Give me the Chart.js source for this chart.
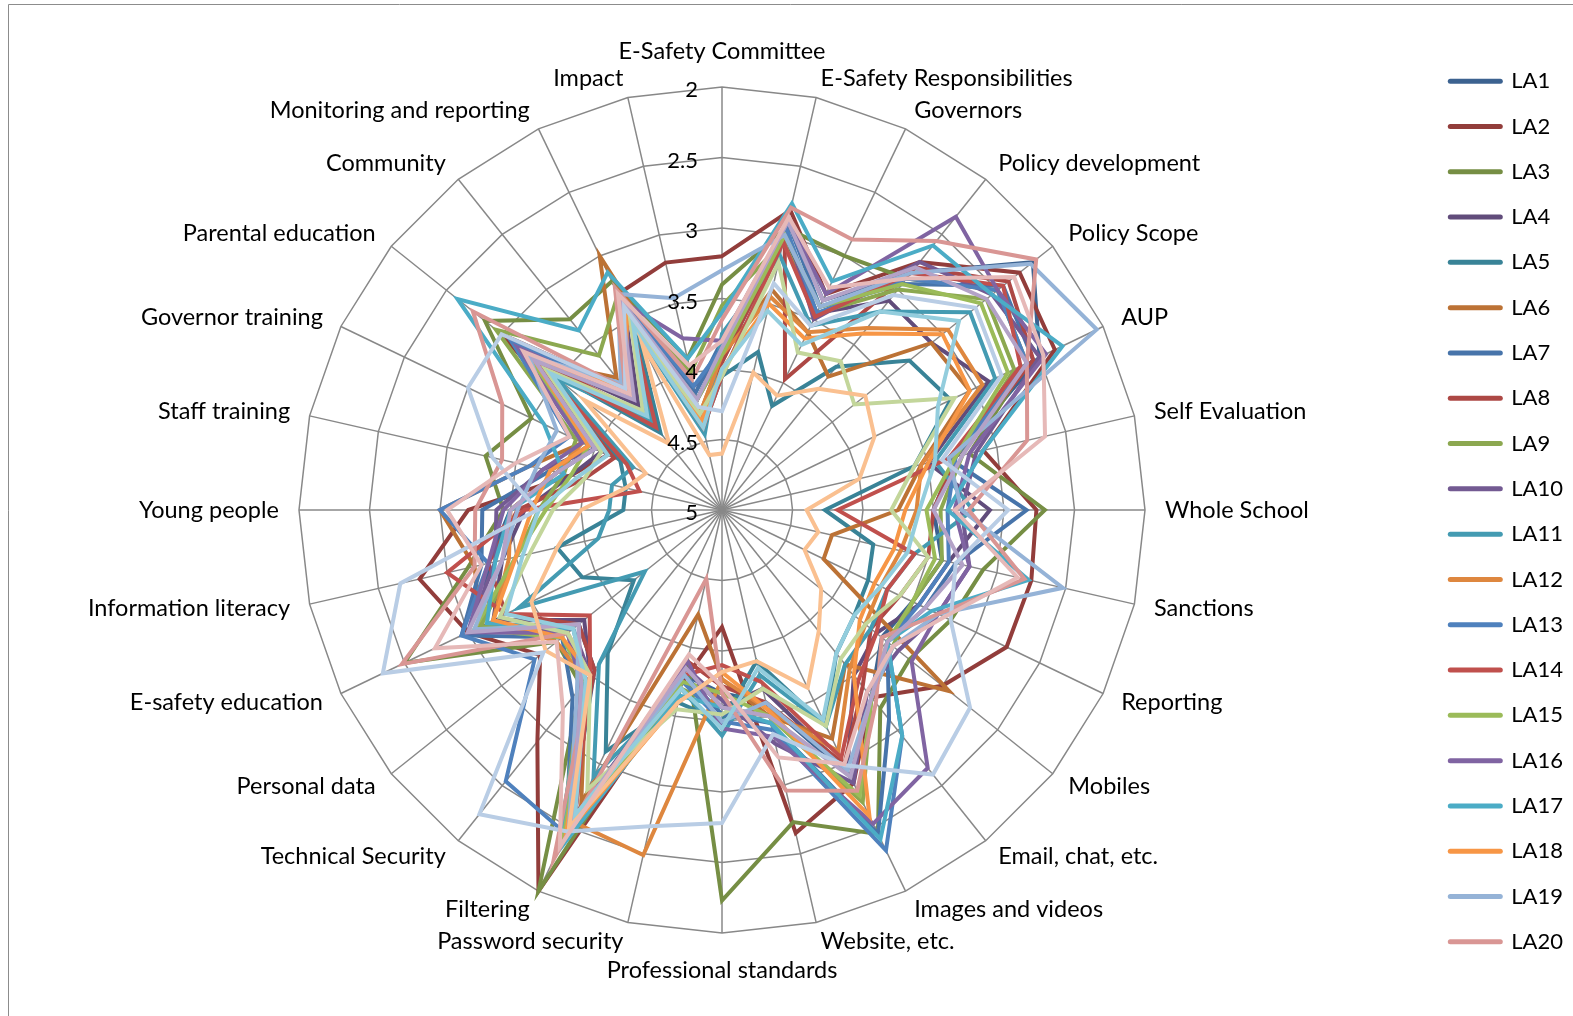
<!DOCTYPE html>
<html>
<head>
<meta charset="utf-8">
<title>E-Safety radar</title>
<script src="https://cdn.jsdelivr.net/npm/chart.js@4.4.1/dist/chart.umd.min.js"></script>
<style>
    html, body { margin: 0; padding: 0; background: #fff; }
    #wrap { width: 1573px; height: 1016px; position: relative; }
</style>
</head>
<body>
<div id="wrap"><canvas id="chart"></canvas></div>
<script>
// Aspects, clockwise from the top
const categories = [
    'E-Safety Committee', 'E-Safety Responsibilities', 'Governors', 'Policy development',
    'Policy Scope', 'AUP', 'Self Evaluation', 'Whole School', 'Sanctions', 'Reporting',
    'Mobiles', 'Email, chat, etc.', 'Images and videos', 'Website, etc.',
    'Professional standards', 'Password security', 'Filtering', 'Technical Security',
    'Personal data', 'E-safety education', 'Information literacy', 'Young people',
    'Staff training', 'Governor training', 'Parental education', 'Community',
    'Monitoring and reporting', 'Impact'
];

// Radial tick labels (scale runs 5 at the centre out to 2)
const tickValues = [2, 2.5, 3, 3.5, 4, 4.5, 5];

// Average level per aspect for each authority
const la1  = [3.85, 2.88, 3.35, 2.85, 2.18, 2.5, 3.3, 3.5, 3.4, 3.5, 3.55, 3.3, 2.9, 3.6, 3.7, 3.8, 2.5, 3.55, 3.7, 3.1, 3.3, 3.5, 3.8, 4.0, 3.15, 4.0, 3.3, 4.2];
const la2  = [3.2, 2.82, 3.3, 2.75, 2.3, 2.38, 3.1, 2.77, 2.75, 2.76, 3.0, 3.3, 2.85, 2.65, 4.17, 3.75, 2.0, 2.9, 3.35, 3.0, 2.8, 3.2, 3.9, 4.1, 3.0, 3.9, 3.3, 3.2];
const la3  = [3.4, 2.95, 3.0, 2.9, 2.5, 2.6, 3.2, 2.71, 3.1, 3.2, 3.3, 3.2, 2.45, 2.73, 2.23, 3.9, 2.0, 3.4, 3.5, 2.5, 3.15, 3.45, 3.28, 3.5, 2.85, 3.27, 3.2, 3.9];
const la4  = [3.95, 3.0, 3.45, 3.1, 3.1, 2.9, 3.5, 3.1, 3.35, 3.45, 3.6, 3.5, 2.95, 3.7, 3.6, 3.85, 2.6, 3.5, 3.75, 3.2, 3.4, 3.6, 3.9, 4.05, 3.2, 4.05, 3.4, 4.1];
const la5  = [4.05, 3.85, 4.18, 3.7, 3.3, 3.2, 3.6, 4.27, 3.9, 3.85, 3.8, 3.7, 3.3, 3.9, 3.5, 3.6, 3.1, 3.7, 4.2, 3.9, 3.8, 4.3, 4.3, 4.2, 3.4, 4.3, 3.6, 4.4];
const la6  = [3.9, 3.4, 3.6, 3.79, 3.1, 3.05, 3.55, 3.75, 4.2, 4.2, 2.94, 3.6, 3.2, 3.5, 3.8, 4.24, 2.7, 3.45, 3.6, 3.1, 3.2, 3.0, 3.6, 3.9, 3.3, 3.8, 3.0, 4.3];
const la7  = [3.8, 2.9, 3.4, 2.95, 2.45, 2.55, 3.35, 2.84, 3.3, 3.4, 3.5, 3.1, 2.45, 3.45, 3.55, 3.8, 2.45, 3.3, 3.55, 2.95, 3.25, 3.3, 3.75, 3.95, 3.1, 3.95, 3.35, 4.15];
const la8  = [3.95, 3.0, 3.97, 2.8, 2.4, 2.55, 3.3, 3.5, 3.5, 3.6, 3.65, 3.4, 3.0, 3.6, 3.75, 3.9, 2.4, 3.55, 3.7, 3.3, 3.3, 3.55, 4.0, 4.15, 3.25, 4.15, 3.5, 4.35];
const la9  = [3.55, 3.05, 3.45, 3.0, 2.6, 2.7, 3.25, 3.45, 3.4, 3.5, 3.45, 3.3, 2.7, 3.5, 3.6, 3.7, 2.35, 3.4, 3.6, 3.1, 3.5, 3.7, 3.85, 3.85, 2.95, 3.6, 3.3, 4.0];
const la10 = [3.9, 2.95, 3.5, 2.75, 2.55, 2.5, 3.15, 3.3, 3.2, 3.3, 3.4, 3.35, 2.85, 3.3, 3.65, 3.85, 2.5, 3.5, 3.65, 3.0, 3.35, 3.4, 3.7, 4.0, 3.2, 4.0, 3.4, 4.2];
const la11 = [3.75, 3.15, 3.55, 3.2, 2.75, 2.85, 3.45, 3.22, 3.6, 3.7, 3.65, 3.6, 3.3, 3.8, 3.4, 3.7, 2.9, 3.6, 4.3, 3.4, 4.1, 4.2, 4.2, 4.3, 3.5, 4.2, 3.55, 4.45];
const la12 = [3.9, 3.45, 3.6, 3.35, 2.95, 2.95, 3.55, 3.62, 3.7, 3.75, 3.7, 3.55, 3.1, 3.55, 3.8, 2.49, 2.55, 3.45, 3.5, 3.2, 3.45, 3.5, 3.8, 3.9, 3.3, 3.85, 3.45, 4.3];
const la13 = [3.85, 2.95, 3.45, 2.9, 2.5, 2.6, 3.3, 3.4, 3.35, 3.45, 3.5, 2.95, 2.32, 3.4, 3.5, 3.75, 2.45, 2.54, 3.3, 2.95, 3.3, 3.0, 3.6, 3.8, 3.1, 3.9, 3.3, 4.1];
const la14 = [4.05, 3.05, 3.48, 2.85, 2.45, 2.65, 3.35, 4.18, 3.6, 3.7, 3.6, 3.45, 3.05, 3.75, 3.9, 3.8, 2.6, 3.5, 3.8, 3.3, 3.0, 3.6, 4.4, 4.25, 3.35, 4.25, 3.5, 4.4];
const la15 = [3.9, 3.0, 3.4, 2.95, 2.65, 2.75, 3.3, 3.55, 3.45, 3.5, 3.5, 3.3, 2.75, 3.5, 3.7, 3.75, 2.4, 3.45, 3.55, 3.05, 3.5, 3.75, 3.9, 3.95, 3.2, 3.95, 3.4, 4.2];
const la16 = [3.8, 2.9, 3.3, 2.34, 2.5, 2.45, 3.2, 3.35, 3.2, 3.3, 3.28, 2.66, 2.53, 3.35, 3.45, 3.9, 2.5, 3.4, 3.6, 3.0, 3.3, 3.45, 3.7, 3.9, 3.15, 4.0, 3.35, 3.75];
const la17 = [3.6, 2.77, 3.2, 2.6, 2.55, 2.32, 3.1, 3.4, 2.77, 3.35, 3.5, 2.95, 2.41, 3.45, 3.6, 3.65, 2.3, 3.45, 3.65, 3.15, 3.35, 3.5, 3.85, 3.6, 2.6, 3.37, 3.13, 3.9];
const la18 = [4.0, 3.5, 3.65, 3.4, 3.0, 3.05, 3.5, 3.7, 3.75, 3.8, 3.75, 3.5, 2.59, 3.55, 3.85, 3.6, 2.45, 3.5, 3.55, 3.2, 3.5, 3.65, 3.75, 3.95, 3.3, 3.9, 3.45, 4.35];
const la19 = [3.3, 3.0, 3.4, 2.85, 2.2, 2.05, 3.35, 3.3, 2.52, 3.3, 3.45, 3.3, 2.95, 3.6, 3.5, 3.8, 2.5, 3.35, 3.7, 3.05, 3.4, 3.55, 3.65, 3.7, 3.25, 3.85, 3.3, 3.46];
const la20 = [3.65, 2.8, 2.87, 2.56, 2.15, 2.6, 2.78, 3.25, 2.8, 3.3, 3.55, 3.25, 2.79, 2.96, 3.7, 4.5, 2.25, 3.5, 3.6, 2.48, 3.2, 3.25, 3.4, 3.27, 2.74, 3.9, 3.25, 4.05];
const la21 = [4.05, 3.2, 3.76, 3.65, 3.8, 3.17, 3.6, 3.8, 3.5, 3.6, 3.7, 3.65, 3.3, 3.7, 3.55, 3.55, 2.8, 3.5, 3.6, 3.25, 3.6, 3.8, 4.0, 4.05, 3.4, 4.1, 3.5, 4.3];
const la22 = [3.85, 2.9, 3.35, 2.8, 2.6, 2.6, 3.25, 3.5, 3.25, 3.4, 3.5, 3.3, 2.9, 3.5, 3.6, 3.85, 2.55, 3.4, 3.7, 3.0, 3.4, 3.5, 3.8, 4.0, 3.3, 4.0, 3.35, 4.2];
const la23 = [4.0, 3.55, 3.7, 3.2, 2.85, 3.3, 3.45, 3.6, 3.65, 3.75, 3.8, 3.7, 3.35, 3.85, 3.45, 3.7, 2.6, 3.45, 3.65, 3.3, 3.55, 3.7, 3.95, 4.1, 3.45, 4.15, 3.55, 4.4];
const la24 = [4.6, 4.0, 4.1, 3.9, 3.7, 3.8, 4.0, 4.4, 4.3, 4.35, 4.1, 3.9, 3.6, 3.9, 3.85, 3.6, 2.5, 3.5, 3.4, 3.5, 3.8, 4.0, 4.3, 4.4, 3.75, 4.4, 3.7, 4.6];
const la25 = [4.3, 3.35, 3.55, 3.05, 2.7, 2.8, 3.4, 2.97, 3.3, 3.2, 2.75, 2.6, 2.99, 3.37, 2.78, 2.7, 2.47, 2.24, 3.38, 2.33, 2.66, 3.69, 3.33, 3.0, 3.0, 3.9, 3.4, 4.25];
const la26 = [3.8, 2.87, 3.25, 2.9, 2.35, 2.47, 2.65, 3.35, 2.85, 3.25, 3.45, 3.35, 3.0, 3.2, 3.75, 3.95, 2.35, 3.19, 3.5, 2.74, 3.25, 3.05, 3.5, 3.8, 3.2, 3.95, 3.3, 3.95];

const seriesValues = [la1, la2, la3, la4, la5, la6, la7, la8, la9, la10, la11, la12, la13,
    la14, la15, la16, la17, la18, la19, la20, la21, la22, la23, la24, la25, la26];
const seriesNames = seriesValues.map((_, i) => 'LA' + (i + 1));

// Office palette: dark shades, mid shades, base accents, then tints
const seriesColors = [
    '#3C6290', '#923D3B', '#768E44', '#614C7B', '#398397', '#BC7235',
    '#4774AA', '#AD4845', '#8CA850', '#735A92', '#449BB2', '#DE873F',
    '#4F81BD', '#C0504D', '#9BBB59', '#8064A2', '#4BACC6', '#F79646',
    '#95B3D7', '#D99694', '#C3D69B', '#B3A2C7', '#93CDDD', '#FAC090',
    '#B9CDE5', '#E6B9B8'
];

// Only the first twenty entries fit in the key
const legendCount = 20;

const FONT = 'Lato, "Open Sans", sans-serif';
const gridColor = '#888888';

// Axis names and radial tick numbers drawn around the scale
const axisText = {
    id: 'axisText',
    afterDraw(chart) {
        const scale = chart.scales.r;
        const ctx = chart.ctx;
        const n = categories.length;
        ctx.save();
        ctx.fillStyle = '#000';
        ctx.textBaseline = 'middle';

        ctx.font = '23.5px ' + FONT;
        categories.forEach((label, i) => {
            const deg = i * 360 / n;
            const p = scale.getPointPosition(i, scale.drawingArea + 20);
            let y = p.y;
            if (deg === 0) {
                ctx.textAlign = 'center';
                y -= 16;
            } else if (deg === 180) {
                ctx.textAlign = 'center';
                y += 17;
            } else {
                ctx.textAlign = deg < 180 ? 'left' : 'right';
            }
            ctx.fillText(label, p.x, y);
        });

        ctx.font = '22px ' + FONT;
        ctx.textAlign = 'right';
        tickValues.forEach(v => {
            const d = scale.getDistanceFromCenterForValue(v);
            ctx.fillText(String(v), scale.xCenter - 24, scale.yCenter - d + 3);
        });
        ctx.restore();
    }
};

// Frame edge along the top and left of the chart
const chartFrame = {
    id: 'chartFrame',
    beforeDraw(chart) {
        const ctx = chart.ctx;
        ctx.save();
        ctx.strokeStyle = '#8c8c8c';
        ctx.lineWidth = 1;
        ctx.beginPath();
        ctx.moveTo(chart.width, 4.5);
        ctx.lineTo(8.5, 4.5);
        ctx.lineTo(8.5, chart.height);
        ctx.stroke();
        ctx.restore();
    }
};

const datasets = seriesValues.map((values, i) => ({
    label: seriesNames[i],
    data: values,
    borderColor: seriesColors[i],
    backgroundColor: seriesColors[i],
    borderWidth: 4,
    pointRadius: 0,
    pointHoverRadius: 0,
    fill: false,
    tension: 0,
    order: seriesValues.length - i   // later series painted on top
}));

new Chart(document.getElementById('chart'), {
    type: 'radar',
    data: { labels: categories, datasets },
    options: {
        responsive: true,
        maintainAspectRatio: false,
        animation: false,
        layout: { padding: { right: 0, top: 7 } },
        plugins: {
            tooltip: { enabled: false },
            legend: {
                display: true,
                position: 'right',
                labels: {
                    color: '#000',
                    font: { family: FONT, size: 22 },
                    usePointStyle: true,
                    pointStyleWidth: 50,
                    padding: 23.3,
                    generateLabels(chart) {
                        const items = Chart.defaults.plugins.legend.labels.generateLabels(chart);
                        return items
                            .filter(it => it.datasetIndex < legendCount)
                            .sort((a, b) => a.datasetIndex - b.datasetIndex)
                            .map(it => Object.assign(it, {
                                pointStyle: 'line',
                                lineWidth: 5,
                                lineCap: 'round'
                            }));
                    }
                },
                onClick: () => {}
            }
        },
        scales: {
            r: {
                min: 2,
                max: 5,
                reverse: true,
                ticks: { display: false, stepSize: 0.5 },
                grid: { color: gridColor, lineWidth: 1.5 },
                angleLines: { color: gridColor, lineWidth: 1.5 },
                pointLabels: { display: false },
                afterFit(scale) {
                    scale.xCenter = 722;
                    scale.yCenter = 510;
                    scale.drawingArea = 423;
                }
            }
        }
    },
    plugins: [chartFrame, axisText]
});
</script>
</body>
</html>
